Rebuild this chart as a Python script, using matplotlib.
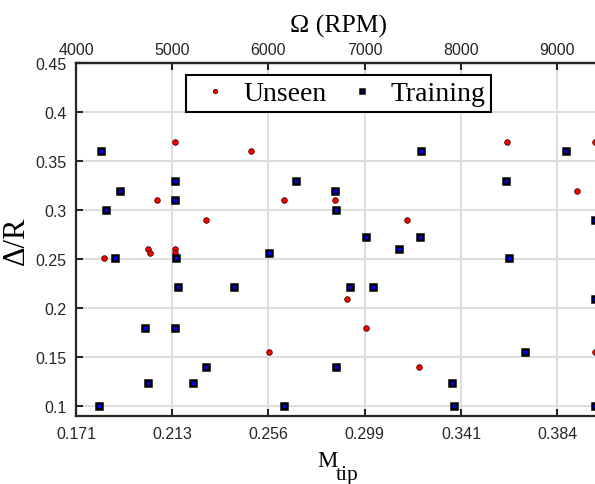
import matplotlib
matplotlib.use('Agg')
import matplotlib.pyplot as plt

# rotor speed (RPM) and Delta/R for the two sets
unseen_rpm = [5028, 5817, 4841, 6163, 6692, 5349, 4744, 4765, 5024, 5024,
              4291, 6010, 8483, 9390, 9205, 7444, 6819, 7017, 9395, 7559]
unseen_dr = [0.37, 0.36, 0.31, 0.31, 0.31, 0.29, 0.26, 0.256, 0.26, 0.256,
             0.251, 0.156, 0.37, 0.37, 0.32, 0.29, 0.21, 0.18, 0.156, 0.14]

train_rpm = [4256, 5031, 6291, 4453, 6692, 5028, 4308, 6706, 4408, 5035,
             6010, 5059, 5644, 4713, 5028, 5346, 6706, 4747, 5215, 4242,
             6166, 7580, 9090, 8472, 9395, 7017, 7576, 7358, 8500, 6851,
             7083, 9395, 8667, 7910, 7924, 9395]
train_dr = [0.36, 0.33, 0.33, 0.32, 0.32, 0.31, 0.30, 0.30, 0.251, 0.251,
            0.256, 0.222, 0.222, 0.18, 0.18, 0.14, 0.14, 0.124, 0.124, 0.1,
            0.1, 0.36, 0.36, 0.33, 0.29, 0.273, 0.273, 0.26, 0.251, 0.222,
            0.222, 0.21, 0.156, 0.124, 0.1, 0.1]

rpm_ticks = [4000, 5000, 6000, 7000, 8000, 9000]
mtip_labels = ['0.171', '0.213', '0.256', '0.299', '0.341', '0.384']
y_ticks = [0.1, 0.15, 0.2, 0.25, 0.3, 0.35, 0.4, 0.45]
y_labels = ['0.1', '0.15', '0.2', '0.25', '0.3', '0.35', '0.4', '0.45']

plt.rcParams['font.family'] = 'Liberation Sans'
serif = 'Liberation Serif'
sc = '#262626'

fig = plt.figure(figsize=(5.95, 4.85), dpi=100)
# axes run a little past the right edge, the original picture is cropped there
ax = fig.add_axes([76/595, 67.7/485, 525.5/595, 353.3/485])
ax.set_xlim(4000, 9460)
ax.set_ylim(0.09, 0.45)

ax.grid(True, color='#dedede', lw=1.4)
ax.set_axisbelow(True)

ax.plot(unseen_rpm, unseen_dr, 'o', ms=4, mfc='#ff0000', mec='#3a0000',
        mew=0.6, ls='none', label='Unseen', clip_on=False, zorder=3)
ax.plot(train_rpm, train_dr, 's', ms=4.2, mfc='#0000ff', mec='k',
        mew=1.8, ls='none', label='Training', clip_on=False, zorder=4)

ax.set_xticks(rpm_ticks)
ax.set_xticklabels(mtip_labels)
ax.set_yticks(y_ticks)
ax.set_yticklabels(y_labels)
ax.tick_params(direction='in', length=5, width=1.5, color=sc,
               labelsize=11.5, labelcolor=sc, pad=7)
for s in ['left', 'bottom', 'top']:
    ax.spines[s].set_linewidth(1.6)
    ax.spines[s].set_color(sc)
ax.spines['right'].set_visible(False)

ax.set_ylabel('Δ/R', family=serif, fontsize=22, labelpad=3)

# M_tip label, subscript about as big as the M like the original
fig.text(317/595, 1 - 467/485, 'M', family=serif, fontsize=16.5,
         va='baseline', ha='left')
fig.text(336/595, 1 - 480/485, 'tip', family=serif, fontsize=15.5,
         va='baseline', ha='left')

top = ax.twiny()
top.set_xlim(ax.get_xlim())
top.set_xticks(rpm_ticks)
top.set_xticklabels([str(t) for t in rpm_ticks])
top.tick_params(direction='in', length=5, width=1.5, color=sc,
                labelsize=11.5, labelcolor=sc, pad=4)
top.spines['top'].set_linewidth(1.6)
top.spines['top'].set_color(sc)
for s in ['left', 'bottom', 'right']:
    top.spines[s].set_visible(False)
top.set_xlabel('Ω (RPM)', family=serif, fontsize=18.5, labelpad=8)

leg = ax.legend(loc='center', bbox_to_anchor=(338.5/595, 1 - 94.5/485),
                bbox_transform=fig.transFigure, ncol=2, fancybox=False,
                framealpha=1, edgecolor='k', markerscale=0.75,
                prop={'family': serif, 'size': 20}, handlelength=1.65,
                handletextpad=0.2, columnspacing=0.45, borderpad=0.2,
                borderaxespad=0)
leg.get_frame().set_linewidth(1.5)
leg.set_zorder(10)

fig.savefig('out.png', dpi=100)
